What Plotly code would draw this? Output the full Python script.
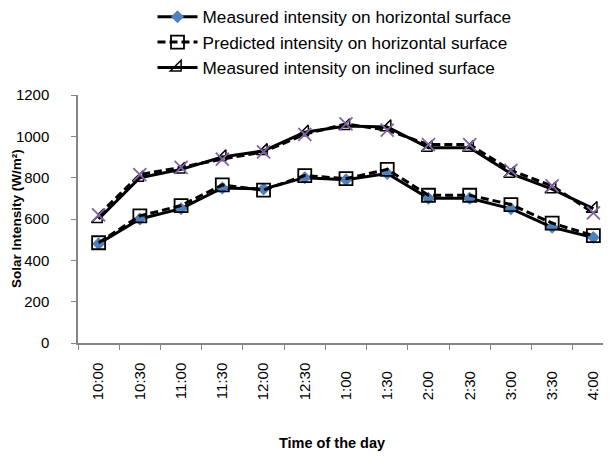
import plotly.graph_objects as go

times = ["10:00", "10:30", "11:00", "11:30", "12:00", "12:30", "1:00",
         "1:30", "2:00", "2:30", "3:00", "3:30", "4:00"]
measured_horizontal = [480, 600, 650, 750, 745, 800, 790, 820, 700, 700, 650, 560, 510]
predicted_horizontal = [485, 615, 665, 765, 740, 810, 795, 840, 715, 715, 670, 580, 520]
measured_inclined = [600, 800, 840, 900, 930, 1020, 1050, 1045, 945, 945, 820, 745, 650]
predicted_inclined = [620, 815, 850, 890, 925, 1010, 1060, 1030, 960, 960, 835, 760, 630]

names = ["Measured intensity on horizontal surface",
         "Predicted intensity on horizontal surface",
         "Measured intensity on inclined surface",
         "Predicted intensity on inclined surface"]

# pad short labels with figure spaces so rotated labels align at their start
tick_text = [t + "\u2007" * (5 - len(t)) for t in times]

fig = go.Figure()
fig.add_trace(go.Scatter(
    x=times, y=measured_horizontal, name=names[0], mode="lines+markers",
    line=dict(color="black", width=3),
    marker=dict(symbol="diamond", size=10, color="#4F81BD")))
fig.add_trace(go.Scatter(
    x=times, y=predicted_horizontal, name=names[1], mode="lines+markers",
    line=dict(color="black", width=3, dash="8px,4px"),
    marker=dict(symbol="square-open", size=13, color="black", line=dict(width=1.8))))
fig.add_trace(go.Scatter(
    x=times, y=measured_inclined, name=names[2], mode="lines+markers",
    line=dict(color="black", width=3),
    marker=dict(symbol="triangle-se-open", size=12, color="black", line=dict(width=1.5))))
fig.add_trace(go.Scatter(
    x=times, y=predicted_inclined, name=names[3], mode="lines+markers",
    showlegend=False,
    line=dict(color="black", width=3, dash="8px,4px"),
    marker=dict(symbol="x-thin-open", size=13, color="#8064A2", line=dict(width=1.8, color="#8064A2"))))

fig.update_layout(
    width=611, height=466,
    margin=dict(l=70, r=5, t=87, b=131, autoexpand=False),
    plot_bgcolor="white", paper_bgcolor="white",
    font=dict(family="Liberation Sans", size=15, color="black"),
    showlegend=True,
    legend=dict(x=0.139, y=1.387, xanchor="left", yanchor="top",
                font=dict(size=17.2), bgcolor="rgba(0,0,0,0)",
                tracegroupgap=0, itemwidth=40),
    xaxis=dict(
        type="category", range=[-0.5, 12.5], automargin=False,
        tickmode="array", tickvals=times, ticktext=tick_text,
        showline=True, linecolor="#868686", linewidth=1.5,
        ticks="outside", tickson="boundaries", ticklen=5, tickcolor="#868686",
        tickangle=-90, ticklabelstandoff=12,
        showgrid=False, zeroline=False,
        tickfont=dict(size=15)),
    yaxis=dict(
        range=[0, 1200], dtick=200, automargin=False,
        showline=True, linecolor="#868686", linewidth=1.5,
        ticks="outside", ticklen=5, tickcolor="#868686",
        ticklabelstandoff=19,
        showgrid=False, zeroline=False,
        tickfont=dict(size=15)),
    annotations=[
        dict(text="<b>Solar Intensity (W/m²)</b>", xref="paper", yref="paper",
             x=-0.1157, y=0.504, textangle=-90, showarrow=False,
             font=dict(size=13.5), xanchor="center", yanchor="middle"),
        dict(text="<b>Time of the day</b>", xref="paper", yref="paper",
             x=0.474, y=-0.403, showarrow=False,
             font=dict(size=14.5), xanchor="center", yanchor="middle"),
    ],
)

fig.write_html("out.html")
